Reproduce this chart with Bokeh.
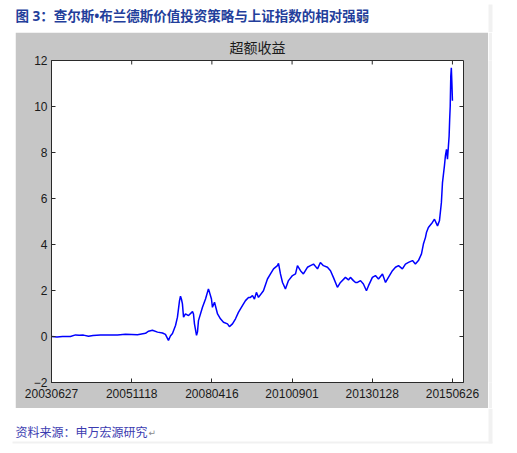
from bokeh.plotting import figure
from bokeh.layouts import column, row
from bokeh.models import Range1d, FixedTicker, LinearAxis, BoxAnnotation, Label
from bokeh.embed import file_html
from bokeh.resources import INLINE

# ---- data (trading-day index since 2003-06-27, excess return) ----
day_index = [0, 40, 80, 137, 174, 200, 231, 268, 300, 354, 420, 477, 535, 580, 622,
             680, 702, 730, 767, 803, 824, 846, 860, 875, 897, 911, 926, 933, 940, 947,
             955, 969, 991, 1020, 1027, 1034, 1049, 1056, 1063, 1092, 1114, 1135, 1143,
             1157, 1164, 1179, 1201, 1222, 1244, 1273, 1287, 1309, 1331, 1352, 1381,
             1403, 1425, 1439, 1454, 1468, 1482, 1497, 1533, 1562, 1584, 1606, 1634,
             1642, 1656, 1671, 1692, 1714, 1743, 1765, 1779, 1801, 1822, 1851, 1873,
             1895, 1924, 1945, 1967, 1996, 2018, 2039, 2068, 2090, 2126, 2148, 2162,
             2184, 2199, 2213, 2235, 2256, 2278, 2293, 2321, 2343, 2365, 2394, 2416,
             2437, 2466, 2488, 2510, 2538, 2560, 2582, 2611, 2632, 2654, 2676, 2690,
             2705, 2712, 2726, 2755, 2770, 2792, 2806, 2820, 2828, 2842, 2849, 2857,
             2864, 2871, 2876, 2880, 2884, 2888, 2892, 2896, 2900]
excess_return = [0.00, -0.02, 0.00, 0.00, 0.07, 0.05, 0.06, 0.01, 0.04, 0.07, 0.06, 0.07,
                 0.10, 0.09, 0.08, 0.14, 0.23, 0.27, 0.19, 0.15, 0.09, -0.17, 0.02, 0.13,
                 0.48, 0.84, 1.56, 1.75, 1.62, 1.42, 0.84, 0.98, 0.91, 1.08, 0.98, 0.55,
                 0.05, 0.20, 0.69, 1.27, 1.63, 2.07, 1.92, 1.63, 1.27, 1.49, 0.98, 0.77,
                 0.62, 0.55, 0.43, 0.55, 0.77, 1.05, 1.34, 1.56, 1.70, 1.70, 1.78, 1.63,
                 1.92, 1.70, 1.99, 2.50, 2.72, 2.94, 3.08, 3.18, 2.72, 2.35, 2.07, 2.43,
                 2.65, 2.72, 3.08, 2.86, 2.72, 3.01, 3.08, 3.15, 2.94, 3.22, 3.08, 3.01,
                 2.86, 2.57, 2.14, 2.35, 2.57, 2.46, 2.57, 2.43, 2.35, 2.35, 2.43, 2.28,
                 1.99, 2.21, 2.57, 2.65, 2.50, 2.72, 2.35, 2.57, 2.86, 3.01, 3.08, 2.94,
                 3.15, 3.22, 3.30, 3.15, 3.30, 3.59, 4.02, 4.31, 4.52, 4.74, 4.96, 5.10,
                 4.81, 5.03, 5.82, 6.69, 7.42, 7.85, 8.14, 7.71, 8.28, 8.72, 9.44, 10.02,
                 11.32, 11.68, 11.03, 10.25]

x_tick_pos = [0, 580, 1160, 1740, 2320, 2900]
x_tick_labels = ["20030627", "20051118", "20080416", "20100901", "20130128", "20150626"]
y_ticks = [-2, 0, 2, 4, 6, 8, 10, 12]

main_title = "图 3：查尔斯•布兰德斯价值投资策略与上证指数的相对强弱"
chart_title = "超额收益"
source_text = "资料来源：申万宏源研究"

# ---- geometry (page pixels) ----
PAGE_W, PAGE_H = 517, 453
PANEL_L, PANEL_R, PANEL_T, PANEL_B = 15, 488, 32, 408   # gray panel
FL, FR, FT, FB = 51, 463, 59, 382                        # plot frame
X0, X1, Y0, Y1 = 0, 2980, -2, 12
STRIP = "#f1f1f1"
AXIS_C = "#2a2a2a"
CJK = "Noto Sans, Noto Sans CJK SC"


def text_fig(h, y_top):
    f = figure(width=PAGE_W, height=h, output_backend="svg", toolbar_location=None,
               x_range=Range1d(0, PAGE_W), y_range=Range1d(y_top + h, y_top),
               x_axis_location=None, y_axis_location=None,
               min_border=0, min_border_left=0, min_border_right=0,
               min_border_top=0, min_border_bottom=0)
    f.outline_line_color = None
    f.border_fill_color = "white"
    f.background_fill_color = "white"
    f.xgrid.visible = False
    f.ygrid.visible = False
    return f


# --- top: document caption ---
top = text_fig(PANEL_T, 0)
top.add_layout(BoxAnnotation(left=PANEL_R, right=PANEL_R + 4, top=4, bottom=PANEL_T,
                             fill_color=STRIP, fill_alpha=1, line_color=None))
top.add_layout(Label(x=15, y=15, text=main_title, text_font=CJK,
                     text_font_size="13.5px", text_font_style="bold", text_color="#233e9b",
                     text_align="left", text_baseline="middle"))
top.add_layout(Label(x=362, y=17, text="↵", text_font="DejaVu Sans",
                     text_font_size="9px", text_color="#8a8a8a",
                     text_align="left", text_baseline="middle"))

# --- middle: chart on gray panel ---
pw, ph = PANEL_R - PANEL_L, PANEL_B - PANEL_T
p = figure(width=pw, height=ph, output_backend="svg", toolbar_location=None,
           x_range=Range1d(X0, X1), y_range=Range1d(Y0, Y1),
           x_axis_location=None, y_axis_location=None,
           min_border_left=FL - PANEL_L, min_border_right=PANEL_R - FR,
           min_border_top=FT - PANEL_T, min_border_bottom=PANEL_B - FB,
           margin=(0, 0, 0, PANEL_L))
p.border_fill_color = "#c6c6c6"
p.background_fill_color = "white"
p.outline_line_color = AXIS_C
p.xgrid.visible = False
p.ygrid.visible = False

p.title.text = chart_title
p.title.align = "center"
p.title.vertical_align = "middle"
p.title.text_font = "Noto Sans CJK SC"
p.title.text_font_size = "14px"
p.title.text_font_style = "normal"
p.title.text_color = "#1a1a1a"
p.title.standoff = 6


def style_axis(ax):
    ax.axis_line_color = AXIS_C
    ax.major_tick_line_color = AXIS_C
    ax.major_tick_in = 4
    ax.major_tick_out = 0
    ax.minor_tick_line_color = None
    ax.major_label_text_font = "Liberation Sans"
    ax.major_label_text_font_size = "12px"
    ax.major_label_text_color = "#1a1a1a"


xax = LinearAxis(ticker=FixedTicker(ticks=x_tick_pos),
                 major_label_overrides={x: lab for x, lab in zip(x_tick_pos, x_tick_labels)})
style_axis(xax)
xax.major_label_standoff = 6
p.add_layout(xax, "below")
yax = LinearAxis(ticker=FixedTicker(ticks=y_ticks))
style_axis(yax)
yax.major_label_standoff = 4
p.add_layout(yax, "left")

# inward ticks on the top and right edges (MATLAB box style)
tick_dy = 4 * (Y1 - Y0) / (FB - FT)
tick_dx = 4 * (X1 - X0) / (FR - FL)
p.segment(x0=x_tick_pos, y0=[Y1] * len(x_tick_pos), x1=x_tick_pos,
          y1=[Y1 - tick_dy] * len(x_tick_pos), line_color=AXIS_C, line_width=1)
p.segment(x0=[X1] * len(y_ticks), y0=y_ticks, x1=[X1 - tick_dx] * len(y_ticks),
          y1=y_ticks, line_color=AXIS_C, line_width=1)

p.line(day_index, excess_return, line_color="#0000ff", line_width=1.5)

strip = figure(width=4, height=ph, output_backend="svg", toolbar_location=None,
               x_axis_location=None, y_axis_location=None, min_border=0,
               min_border_left=0, min_border_right=0, min_border_top=0, min_border_bottom=0)
strip.outline_line_color = None
strip.border_fill_color = STRIP
strip.background_fill_color = STRIP
strip.xgrid.visible = False
strip.ygrid.visible = False

# --- bottom: source line ---
bot = text_fig(PAGE_H - PANEL_B, PANEL_B)
bot.add_layout(BoxAnnotation(left=PANEL_R, right=PANEL_R + 4, top=PANEL_B, bottom=443,
                             fill_color=STRIP, fill_alpha=1, line_color=None))
bot.add_layout(BoxAnnotation(left=12, right=PANEL_R + 4, top=441, bottom=443,
                             fill_color=STRIP, fill_alpha=1, line_color=None))
bot.add_layout(Label(x=15, y=431, text=source_text, text_font="Noto Sans CJK SC",
                     text_font_size="12px", text_color="#3b3bb0",
                     text_align="left", text_baseline="middle"))
bot.add_layout(Label(x=148, y=432, text="↵", text_font="DejaVu Sans",
                     text_font_size="9px", text_color="#8a8a8a",
                     text_align="left", text_baseline="middle"))

layout = column(top, row(p, strip, spacing=0), bot, spacing=0)
open("out.html", "w").write(file_html(layout, INLINE))
